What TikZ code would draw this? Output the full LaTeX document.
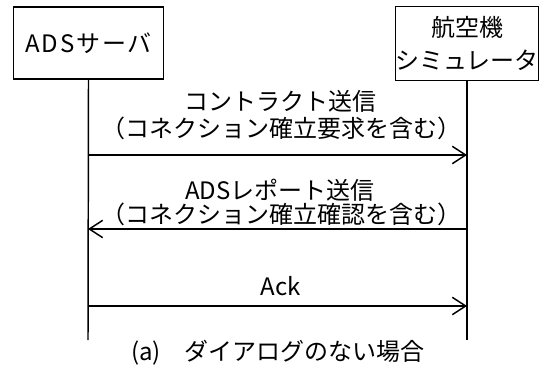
\documentclass[tikz,border=0pt]{standalone}
\usepackage{fontspec}
\setmainfont{Noto Sans CJK JP}
\usetikzlibrary{arrows.meta}
\begin{document}
\begin{tikzpicture}[x=0.75pt,y=-0.75pt,
  actor/.style={draw, line width=0.8pt, align=center, inner sep=0pt,
    font=\fontsize{18}{25}\selectfont},
  life/.style={line width=1.1pt},
  msg/.style={line width=1.1pt, -{Straight Barb[length=10pt,width=13pt,line width=1.1pt]}},
  lbl/.style={inner sep=0pt, font=\fontsize{18}{22}\selectfont}]
\useasboundingbox (0,0) rectangle (556,378);
\node[actor, minimum width=112pt, minimum height=54pt] (ads) at (88.5,43) {\addfontfeature{LetterSpace=8}ADSサーバ};
\node[actor, minimum width=107pt, minimum height=55pt] (sim) at (467,43.5) {航空機\\シミュレータ};
\coordinate (adsEnd) at (88,340);
\coordinate (simEnd) at (467,340);
\draw[life] (ads.south) -- (adsEnd);
\draw[life] (sim.south) -- (simEnd);
\coordinate (a1) at (88,155);
\coordinate (b1) at (467,155);
\coordinate (a2) at (88,229);
\coordinate (b2) at (467,229);
\coordinate (a3) at (88,306);
\coordinate (b3) at (467,306);
\draw[msg] (a1) -- (b1);
\draw[msg] (b2) -- (a2);
\draw[msg] (a3) -- (b3);
\node[lbl] (t1) at (280,101) {コントラクト送信};
\node[lbl] (t2) at (281,128) {（コネクション確立要求を含む）};
\node[lbl] (t3) at (280,190) {ADSレポート送信};
\node[lbl] (t4) at (281,214) {（コネクション確立確認を含む）};
\node[lbl] (t5) at (281,286) {Ack};
\node[lbl] (cap) at (278,353) {(a)　ダイアログのない場合};
\end{tikzpicture}
\end{document}
